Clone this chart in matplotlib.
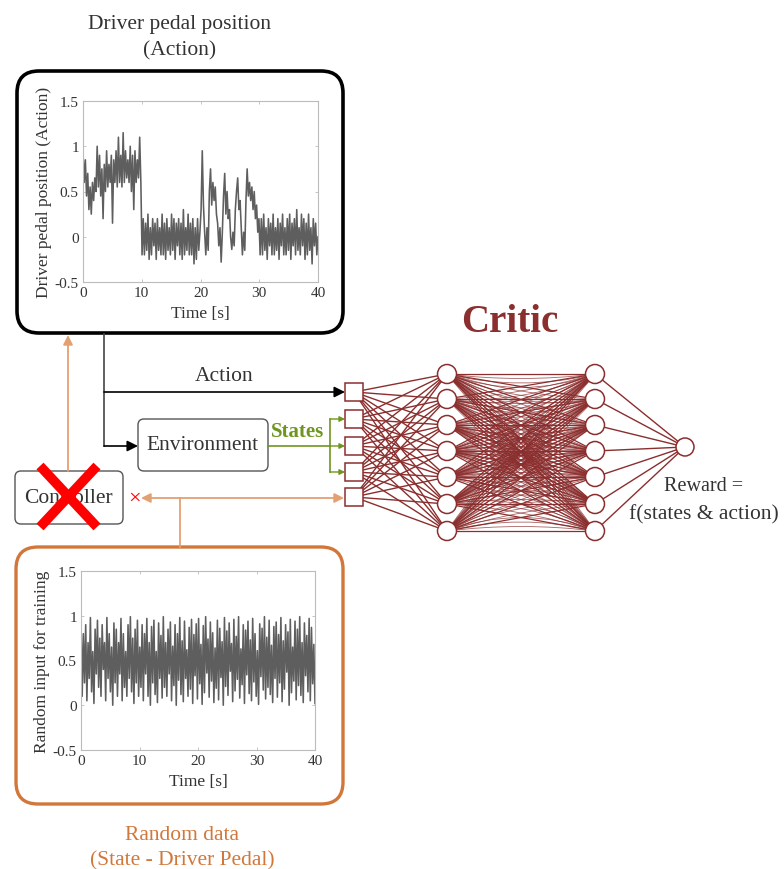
import numpy as np
import matplotlib
matplotlib.use("Agg")
import matplotlib.pyplot as plt
from matplotlib.patches import FancyBboxPatch, Rectangle, Circle, FancyArrowPatch, PathPatch
from matplotlib.path import Path

plt.rcParams['font.family'] = ['Liberation Serif', 'DejaVu Serif']

# ---------------- data ----------------
action_pedal = [
    0.95, 0.6, 0.85, 0.45, 0.7, 0.3, 0.55, 0.25, 0.6, 0.4,
    0.65, 0.5, 1.0, 0.55, 0.9, 0.45, 0.75, 0.2, 0.8, 0.5,
    0.95, 0.55, 0.8, 0.6, 0.9, 0.15, 0.85, 0.6, 0.95, 0.55,
    1.1, 0.6, 0.9, 0.55, 1.15, 0.6, 0.95, 0.65, 0.85, 0.6,
    1.0, 0.5, 0.9, 0.3, 0.95, 0.6, 0.85, 0.65, 1.1, 0.6,
    -0.2,
    0.2, -0.2, 0.15, -0.15, 0.25, -0.25, 0.1, -0.2, 0.2, -0.1,
    0.15, -0.25, 0.2, -0.15, 0.1, -0.2, 0.25, -0.2, 0.15, -0.25,
    0.2, -0.15, 0.1, -0.2, 0.25, -0.15, 0.2, -0.25, 0.15, -0.1,
    0.2, -0.2, 0.15, -0.25, 0.3, -0.2, 0.1, -0.15, 0.25, -0.2,
    0.15, -0.2, 0.2, -0.3, 0.1, -0.25, 0.2, -0.15, 0.05,
    0.3, 0.95, 0.35, 0.05, -0.2, 0.1, -0.15, 0.5, 0.75, 0.35,
    0.6, 0.4, 0.55, 0.25, 0.15, -0.1, 0.1, -0.28, 0.05, 0.45,
    0.7, 0.25, 0.5, 0.2, 0.3, 0.0, -0.14, 0.05, -0.1, 0.3,
    0.5, 0.65, 0.3, 0.4, 0.1, -0.2, 0.05, -0.15, 0.4, 0.75,
    0.45, 0.6, 0.4, 0.55, 0.3, 0.5, 0.2, 0.35, 0.05, 0.2,
    -0.2,
    0.2, -0.2, 0.25, -0.15, 0.1, -0.25, 0.2, -0.1, 0.15, -0.2,
    0.25, -0.2, 0.1, -0.15, 0.2, -0.25, 0.15, -0.1, 0.25, -0.2,
    0.1, -0.2, 0.2, -0.15, 0.25, -0.25, 0.15, -0.1, 0.2, -0.2,
    0.3, -0.15, 0.1, -0.2, 0.25, -0.1, 0.2, -0.25, 0.15, -0.2,
    0.25, -0.15, 0.1, -0.3, 0.2, -0.1, 0.15, -0.2, 0.0,
]
random_input = [
    0.95, 0.1, 0.8, 0.25, 0.9, 0.05, 0.7, 0.3, 0.98, 0.15,
    0.6, 0.02, 0.85, 0.35, 0.95, 0.2, 0.75, 0.1, 0.9, 0.4,
    0.7, 0.05, 0.98, 0.3, 0.8, 0.15, 0.65, 0.0, 0.92, 0.25,
    0.85, 0.1, 0.7, 0.35, 0.97, 0.05, 0.8, 0.2, 0.6, 0.1,
    0.9, 0.3, 0.99, 0.15, 0.75, 0.02, 0.85, 0.25, 0.95, 0.1,
    0.65, 0.2, 0.9, 0.05, 0.8, 0.35, 0.97, 0.1, 0.7, 0.0,
    0.88, 0.25, 0.95, 0.12, 0.6, 0.03, 0.92, 0.3, 0.78, 0.08,
    0.99, 0.2, 0.7, 0.1, 0.85, 0.35, 0.93, 0.05, 0.66, 0.22,
    0.9, 0.0, 0.8, 0.28, 0.98, 0.12, 0.72, 0.04, 0.94, 0.3,
    0.62, 0.1, 0.87, 0.18, 0.96, 0.02, 0.79, 0.33, 0.91, 0.07,
    0.97, 0.24, 0.68, 0.01, 0.89, 0.14, 0.99, 0.36, 0.74, 0.09,
    0.93, 0.27, 0.81, 0.03, 0.64, 0.19, 0.95, 0.06, 0.86, 0.31,
    0.71, 0.0, 0.98, 0.21, 0.83, 0.11, 0.92, 0.38, 0.69, 0.04,
    0.96, 0.16, 0.77, 0.29, 0.99, 0.08, 0.63, 0.23, 0.9, 0.02,
    0.84, 0.34, 0.94, 0.13, 0.73, 0.05, 0.97, 0.26, 0.8, 0.1,
    0.61, 0.01, 0.91, 0.32, 0.86, 0.17, 0.99, 0.07, 0.76, 0.2,
    0.95, 0.12, 0.67, 0.03, 0.88, 0.3, 0.93, 0.09, 0.79, 0.25,
    0.98, 0.04, 0.72, 0.18, 0.9, 0.37, 0.82, 0.0, 0.96, 0.14,
    0.65, 0.27, 0.94, 0.06, 0.85, 0.22, 0.99, 0.11, 0.7, 0.03,
    0.92, 0.33, 0.78, 0.15, 0.97, 0.05, 0.87, 0.24, 0.68, 0.02,
]

xticks = [0, 10, 20, 30, 40]
yticks = [-0.5, 0, 0.5, 1, 1.5]
ytick_labels = ['-0.5', '0', '0.5', '1', '1.5']

# ---------------- colours ----------------
NET = '#8B2E2E'
ORANGE = '#D2773A'
ORANGE_L = '#E3A070'
GREEN = '#6E961E'
TXT = '#333333'

W, H = 784, 870
fig = plt.figure(figsize=(W / 100, H / 100), dpi=100)
ax = fig.add_axes([0, 0, 1, 1])
ax.set_xlim(0, W)
ax.set_ylim(H, 0)
ax.axis('off')

def rbox(x0, y0, x1, y1, ec, lw, r):
    p = FancyBboxPatch((x0, y0), x1 - x0, y1 - y0,
                       boxstyle=f"round,pad=0,rounding_size={r}",
                       fc='white', ec=ec, lw=lw, zorder=1)
    ax.add_patch(p)

def arrow(x0, y0, x1, y1, color, lw=1.2, style='-|>', ms=12, z=3):
    a = FancyArrowPatch((x0, y0), (x1, y1), arrowstyle=style, mutation_scale=ms,
                        color=color, lw=lw, shrinkA=0, shrinkB=0, zorder=z)
    ax.add_patch(a)

FS = 15.5

# ---------------- titles ----------------
ax.text(180, 24, 'Driver pedal position', ha='center', va='center', fontsize=15.5, color=TXT)
ax.text(180, 51, '(Action)', ha='center', va='center', fontsize=15.5, color=TXT)
ax.text(182, 836, 'Random data', ha='center', va='center', fontsize=15.5, color=ORANGE)
ax.text(182, 861, '(State - Driver Pedal)', ha='center', va='center', fontsize=15.5, color=ORANGE)
ax.text(510, 323, 'Critic', ha='center', va='center', fontsize=28, color=NET, fontweight='bold')

# ---------------- boxes ----------------
rbox(17, 72, 343, 334, 'black', 2.6, 22)
rbox(16, 548, 343, 805, ORANGE, 2.4, 22)
rbox(138, 420, 268, 472, '#555555', 1.0, 6)
rbox(15, 472, 123, 525, '#555555', 1.0, 6)
ax.text(203, 446, 'Environment', ha='center', va='center', fontsize=FS, color=TXT, zorder=4)
ax.text(68, 499, 'Controller', ha='center', va='center', fontsize=FS, color=TXT, zorder=4)

# red X over controller
ax.plot([40, 97], [467, 528], color='#FF0000', lw=7, solid_capstyle='butt', zorder=6)
ax.plot([97, 40], [467, 528], color='#FF0000', lw=7, solid_capstyle='butt', zorder=6)
ax.text(134, 499, '×', ha='center', va='center', fontsize=16, color='#FF0000', zorder=6)

# ---------------- arrows ----------------
ax.plot([104, 104], [335, 447], color='#444444', lw=1.2, zorder=2)
arrow(104, 393, 345, 393, 'black', lw=1.2, ms=16)
arrow(104, 447, 138, 447, 'black', lw=1.2, ms=16)
ax.text(224, 377, 'Action', ha='center', va='center', fontsize=FS, color=TXT)

arrow(68, 472, 68, 336, ORANGE_L, lw=1.3, ms=14)
arrow(141, 499, 344, 499, ORANGE_L, lw=1.3, style='<|-|>', ms=14)
ax.plot([180, 180], [499, 548], color=ORANGE_L, lw=1.3, zorder=2)

ax.plot([268, 330], [447, 447], color=GREEN, lw=1.2, zorder=2)
ax.plot([330, 330], [420, 473], color=GREEN, lw=1.2, zorder=2)
for yy in [420, 447, 473]:
    arrow(330, yy, 345, yy, GREEN, lw=1.0, ms=8)
ax.text(298, 432, 'States', ha='center', va='center', fontsize=15, color=GREEN, fontweight='bold')

# ---------------- network ----------------
sq_x = 354
sq_ys = [393, 420, 447, 473, 498]
h1_x, h2_x = 447, 595
hy = [375, 400, 426, 452, 478, 505, 532]
out = (685, 448)
r = 9.5

for sy in sq_ys:
    for y in hy:
        ax.plot([sq_x, h1_x], [sy, y], color=NET, lw=1.0, zorder=2)
cy = np.mean(hy)
for y1 in hy:
    for y2 in hy:
        ax.plot([h1_x, h2_x], [y1, y2], color=NET, lw=0.9, zorder=2)
        sgn = 1 if (y1 + y2) / 2 < cy else -1
        for s in (9, 18, 27):
            verts = [(h1_x, y1), ((h1_x + h2_x) / 2, (y1 + y2) / 2 + sgn * s), (h2_x, y2)]
            pth = Path(verts, [Path.MOVETO, Path.CURVE3, Path.CURVE3])
            ax.add_patch(PathPatch(pth, fc='none', ec=NET, lw=0.6, alpha=0.75, zorder=2))
for y in hy:
    ax.plot([h2_x, out[0]], [y, out[1]], color=NET, lw=1.0, zorder=2)

for sy in sq_ys:
    ax.add_patch(Rectangle((sq_x - 9, sy - 9), 18, 18, fc='white', ec=NET, lw=1.1, zorder=4))
for x in (h1_x, h2_x):
    for y in hy:
        ax.add_patch(Circle((x, y), r, fc='white', ec=NET, lw=1.1, zorder=4))
ax.add_patch(Circle(out, 9, fc='white', ec=NET, lw=1.1, zorder=4))

ax.text(704, 487, 'Reward =', ha='center', va='center', fontsize=14.5, color=TXT)
ax.text(704, 515, 'f(states & action)', ha='center', va='center', fontsize=FS, color=TXT)

# ---------------- time-series plots ----------------
def ts_axes(x0, y0, x1, y1, values, ylabel):
    a = fig.add_axes([x0 / W, 1 - y1 / H, (x1 - x0) / W, (y1 - y0) / H])
    t = np.linspace(0, 40, len(values))
    a.plot(t, values, color='#5E5E5E', lw=1.15, zorder=2)
    a.set_xlim(0, 40)
    a.set_ylim(-0.5, 1.5)
    a.set_xticks(xticks)
    a.set_yticks(yticks)
    a.set_yticklabels(ytick_labels)
    a.tick_params(direction='in', length=2.5, width=0.6, color='#BBBBBB',
                  labelcolor=TXT, labelsize=11, top=True, right=True, pad=3)
    for sp in a.spines.values():
        sp.set_color('#BBBBBB')
        sp.set_linewidth(0.8)
    a.set_xlabel('Time [s]', fontsize=12.5, color=TXT, labelpad=4)
    a.set_ylabel(ylabel, fontsize=12.5, color=TXT, labelpad=2)
    return a

ts_axes(83, 102, 318, 283, action_pedal, 'Driver pedal position (Action)')
ts_axes(81, 572, 315, 751, random_input, 'Random input for training')

fig.savefig('out.png', dpi=100)
